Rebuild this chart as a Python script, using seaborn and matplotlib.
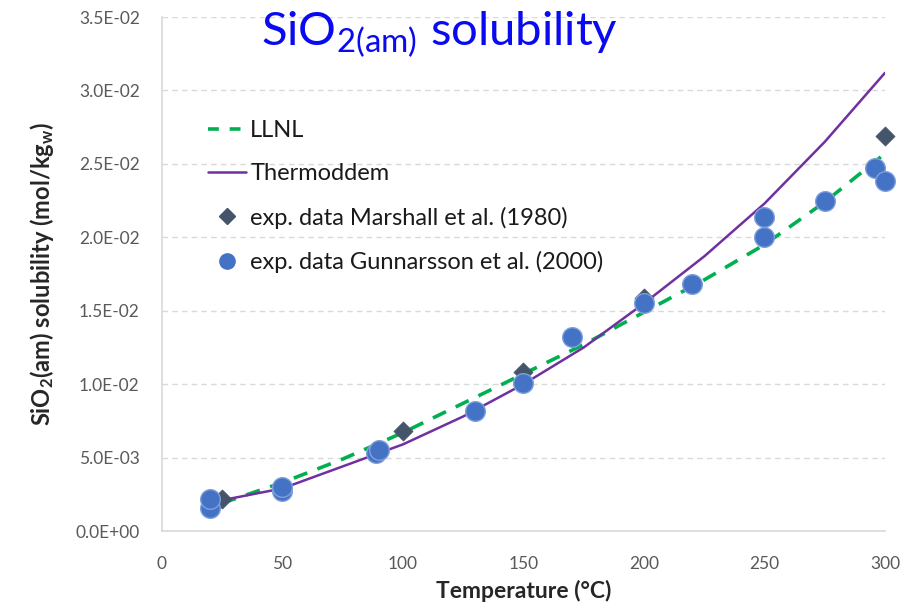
import seaborn as sns
import matplotlib.pyplot as plt
import matplotlib.ticker as mticker
from matplotlib.lines import Line2D
import pandas as pd

# -------------------------
# Data
# -------------------------

t_model = [25, 50, 75, 100, 125, 150, 175, 200, 225, 250, 275, 300]
llnl = [0.0019, 0.0033, 0.0049, 0.0067, 0.0087, 0.0107, 0.0127, 0.0149,
        0.0171, 0.0195, 0.0224, 0.0257]
thermoddem = [0.0021, 0.0029, 0.0044, 0.0059, 0.0078, 0.0100, 0.0125, 0.0155,
              0.0187, 0.0223, 0.0265, 0.0312]

t_marshall = [25, 100, 150, 200, 250, 300]
marshall = [0.0022, 0.0068, 0.0108, 0.0159, 0.0212, 0.0269]

t_gunnarsson = [20, 20, 50, 50, 89, 90, 130, 150, 170, 200, 220, 250, 250,
                275, 296, 300]
gunnarsson = [0.0016, 0.0022, 0.0027, 0.0030, 0.0053, 0.0055, 0.0082, 0.0101,
              0.0132, 0.0155, 0.0168, 0.0200, 0.0214, 0.0225, 0.0247, 0.0238]

x_ticks = [0, 50, 100, 150, 200, 250, 300]
y_ticks = [0.0, 0.005, 0.010, 0.015, 0.020, 0.025, 0.030, 0.035]

models = pd.DataFrame({"T": t_model, "LLNL": llnl, "Thermoddem": thermoddem})
df_m = pd.DataFrame({"T": t_marshall, "S": marshall})
df_g = pd.DataFrame({"T": t_gunnarsson, "S": gunnarsson})

# -------------------------
# Styling
# -------------------------

sns.set_style("white")
plt.rcParams["font.family"] = ["Lato", "DejaVu Sans"]
plt.rcParams["mathtext.fontset"] = "custom"
plt.rcParams["mathtext.rm"] = "Lato"
plt.rcParams["mathtext.it"] = "Lato:italic"
plt.rcParams["mathtext.bf"] = "Lato:bold"

green = "#00B050"
purple = "#7030A0"
slate = "#44546A"
blue = "#4472C4"

fig = plt.figure(figsize=(9.12, 6.05), dpi=100)
ax = fig.add_axes([0.1776, 0.1223, 0.7928, 0.8496])

sns.lineplot(data=models, x="T", y="LLNL", ax=ax, color=green, lw=2.6,
             linestyle=(0, (4, 3)))
sns.lineplot(data=models, x="T", y="Thermoddem", ax=ax, color=purple, lw=1.8)
sns.scatterplot(data=df_m, x="T", y="S", ax=ax, marker="D", s=95,
                color=slate, edgecolor=slate, linewidth=0.5, zorder=3,
                clip_on=False)
sns.scatterplot(data=df_g, x="T", y="S", ax=ax, marker="o", s=200,
                color=blue, edgecolor="#7FA0DC", linewidth=1.0, zorder=4,
                clip_on=False)

ax.set_xlim(0, 300)
ax.set_ylim(0, 0.035)
ax.set_xticks(x_ticks)
ax.set_yticks(y_ticks)
ax.yaxis.set_major_formatter(mticker.FuncFormatter(lambda v, p: f"{v:.1E}"))
ax.tick_params(axis="both", length=0, labelsize=12.5, labelcolor="#595959")
ax.tick_params(axis="y", pad=16)
ax.tick_params(axis="x", pad=18)

ax.grid(axis="y", color="#D9D9D9", linestyle=(0, (4, 3)), lw=1.0)
ax.grid(axis="x", visible=False)
for side in ["top", "right"]:
    ax.spines[side].set_visible(False)
for side in ["left", "bottom"]:
    ax.spines[side].set_color("#D9D9D9")
    ax.spines[side].set_linewidth(1.2)

ax.set_xlabel("Temperature (°C)", fontsize=16.5, weight="bold", labelpad=6)
ax.set_ylabel(r"SiO$_\mathbf{2}$(am) solubility (mol/kg$_\mathbf{w}$)",
              fontsize=17, weight="bold", labelpad=14)

# Legend
handles = [
    Line2D([], [], color=green, lw=2.6, linestyle=(0, (3, 3))),
    Line2D([], [], color=purple, lw=1.8),
    Line2D([], [], color=slate, marker="D", linestyle="none", markersize=8),
    Line2D([], [], color=blue, marker="o", linestyle="none", markersize=11),
]
labels = ["LLNL", "Thermoddem", "exp. data Marshall et al. (1980)",
          "exp. data Gunnarsson et al. (2000)"]
ax.legend(handles, labels, loc="upper left", bbox_to_anchor=(0.047, 0.823),
          frameon=False, fontsize=17, handlelength=1.6, handletextpad=0.2,
          labelspacing=0.95, borderpad=0, labelcolor="#1a1a1a")

# Title
fig.text(0.482, 0.943, r"SiO$_{\mathrm{2(am)}}$ solubility", color="#0A0AF0",
         fontsize=34, ha="center", va="center")

plt.savefig("out.png", dpi=100)
plt.close()
